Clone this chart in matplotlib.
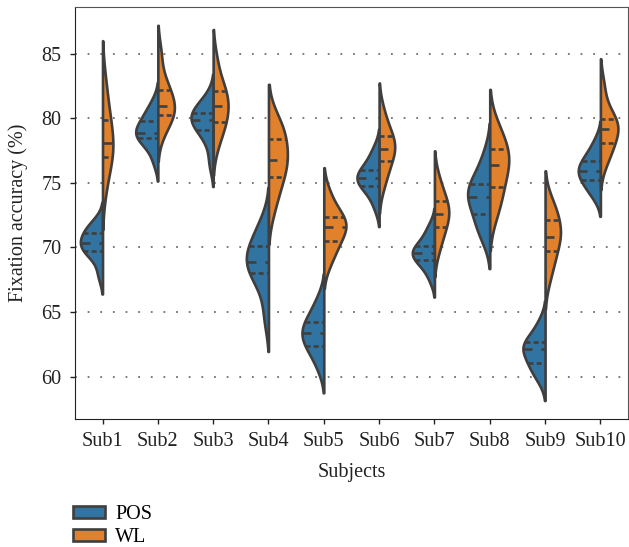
import numpy as np
import matplotlib
matplotlib.use("Agg")
import matplotlib.pyplot as plt
from matplotlib import mlab
from matplotlib.patches import Patch

# subjects on the x axis and the two conditions split inside each violin
subjects = ["Sub1", "Sub2", "Sub3", "Sub4", "Sub5",
            "Sub6", "Sub7", "Sub8", "Sub9", "Sub10"]
conditions = ["POS", "WL"]

# fixation accuracy (%) per trial, estimated from the figure
pos_samples = [
    [67.9, 69.3, 69.7, 69.95, 70.2, 70.5, 70.8, 71.25, 71.5, 72.0],
    [76.75, 78.0, 78.35, 78.75, 78.85, 78.95, 79.6, 79.9, 80.4, 81.2],
    [76.55, 78.3, 78.95, 79.55, 79.8, 80.0, 80.3, 80.5, 81.0, 81.6],
    [64.6, 67.0, 67.8, 68.6, 68.8, 69.0, 69.8, 70.2, 71.0, 72.0],
    [60.7, 61.9, 62.25, 62.85, 63.2, 63.5, 64.0, 64.35, 65.0, 66.0],
    [73.2, 74.3, 74.7, 75.1, 75.3, 75.5, 75.9, 76.05, 76.8, 77.6],
    [67.6, 68.6, 68.9, 69.3, 69.5, 69.7, 70.0, 70.15, 70.9, 71.6],
    [70.8, 71.7, 72.3, 73.5, 73.8, 74.0, 74.7, 75.0, 75.8, 77.2],
    [59.8, 60.6, 60.9, 61.5, 62.0, 62.2, 62.5, 62.7, 63.3, 64.2],
    [74.0, 74.7, 75.05, 75.65, 75.8, 76.0, 76.5, 76.8, 77.3, 78.2],
]
wl_samples = [
    [74.5, 76.2, 76.8, 77.6, 77.9, 78.3, 79.5, 80.0, 81.2, 82.9],
    [78.9, 79.8, 80.2, 80.6, 80.9, 81.1, 81.9, 82.3, 83.0, 85.0],
    [78.0, 79.2, 79.6, 80.25, 80.8, 81.15, 81.8, 82.2, 82.8, 84.5],
    [73.0, 74.6, 75.2, 76.4, 76.7, 76.9, 78.1, 78.55, 79.3, 79.9],
    [68.8, 69.9, 70.3, 71.1, 71.5, 71.7, 72.1, 72.4, 73.0, 74.2],
    [74.8, 75.9, 76.45, 77.45, 77.5, 77.7, 78.4, 78.7, 79.4, 80.6],
    [69.8, 70.9, 71.4, 72.2, 72.5, 72.7, 73.3, 73.7, 74.3, 75.4],
    [72.5, 73.8, 74.4, 75.6, 76.2, 76.6, 77.3, 77.7, 78.5, 79.5],
    [67.6, 68.9, 69.4, 70.6, 70.7, 71.0, 71.8, 72.2, 72.9, 73.6],
    [76.6, 77.5, 77.9, 78.7, 79.1, 79.3, 79.7, 80.0, 80.7, 82.5],
]

colors = ["#3274a1", "#e1812c"]
gray = "#3f3f3f"
lw = 1.9

plt.rcParams["font.family"] = ["Liberation Serif", "DejaVu Serif"]
plt.rcParams["font.size"] = 14.5


# gaussian kde evaluated a bit past the data, like seaborn does (cut=2)
def kde_curve(samples, cut=2, gridsize=100):
    x = np.asarray(samples, dtype=float)
    kde = mlab.GaussianKDE(x, "scott")
    bw = kde.factor * x.std(ddof=1)
    support = np.linspace(x.min() - cut * bw, x.max() + cut * bw, gridsize)
    return support, kde.evaluate(support)


fig = plt.figure(figsize=(6.29, 5.47), dpi=100)
ax = fig.add_axes([0.119, 0.2335, 0.8795, 0.7545])

half = 0.4
for i in range(len(subjects)):
    groups = [pos_samples[i], wl_samples[i]]
    curves = [kde_curve(g) for g in groups]
    peak = max(d.max() for _, d in curves)  # normalise within subject
    for j, (support, dens) in enumerate(curves):
        w = dens / peak * half
        if j == 0:
            ax.fill_betweenx(support, i - w, i, facecolor=colors[0],
                             edgecolor=gray, linewidth=lw, zorder=2)
        else:
            ax.fill_betweenx(support, i, i + w, facecolor=colors[1],
                             edgecolor=gray, linewidth=lw, zorder=2)
        # quartile lines
        q25, q50, q75 = np.percentile(groups[j], [25, 50, 75])
        for q, dash in [(q25, [1.9, 1.2]), (q50, [3.4, 3.4]),
                        (q75, [1.9, 1.2])]:
            k = np.argmin(np.abs(support - q))
            ww = w[k] * 0.99
            xs = [i - ww, i] if j == 0 else [i, i + ww]
            ax.plot(xs, [q, q], color=gray, linewidth=lw, dashes=dash,
                    zorder=3)

ax.set_xlim(-0.5, len(subjects) - 0.5)
ax.set_xticks(range(len(subjects)))
ax.set_xticklabels(subjects)
ax.set_yticks([60, 65, 70, 75, 80, 85])
ax.yaxis.grid(True, linestyle=(0, (1, 6)), color="#6e6e6e", linewidth=1.3,
              zorder=0)
ax.set_axisbelow(True)
ax.tick_params(direction="out", length=3.5, width=1, colors="#222222",
               labelsize=14.5, pad=6)
for side in ["left", "bottom"]:
    ax.spines[side].set_color("#222222")
for side in ["top", "right"]:
    ax.spines[side].set_color("#555555")

ax.set_xlabel("Subjects", fontsize=14.5, color="#222222", labelpad=8)
ax.set_ylabel("Fixation accuracy (%)", fontsize=14.5, color="#222222",
              labelpad=10)

handles = [Patch(facecolor=c, edgecolor=gray, linewidth=lw) for c in colors]
fig.legend(handles, conditions, loc="upper left",
           bbox_to_anchor=(73 / 629, 1 - 505 / 547), frameon=False,
           borderpad=0, borderaxespad=0, handlelength=1.6,
           handleheight=0.55, handletextpad=0.5, labelspacing=0.2,
           fontsize=14.5)

fig.savefig("out.png", dpi=100)
